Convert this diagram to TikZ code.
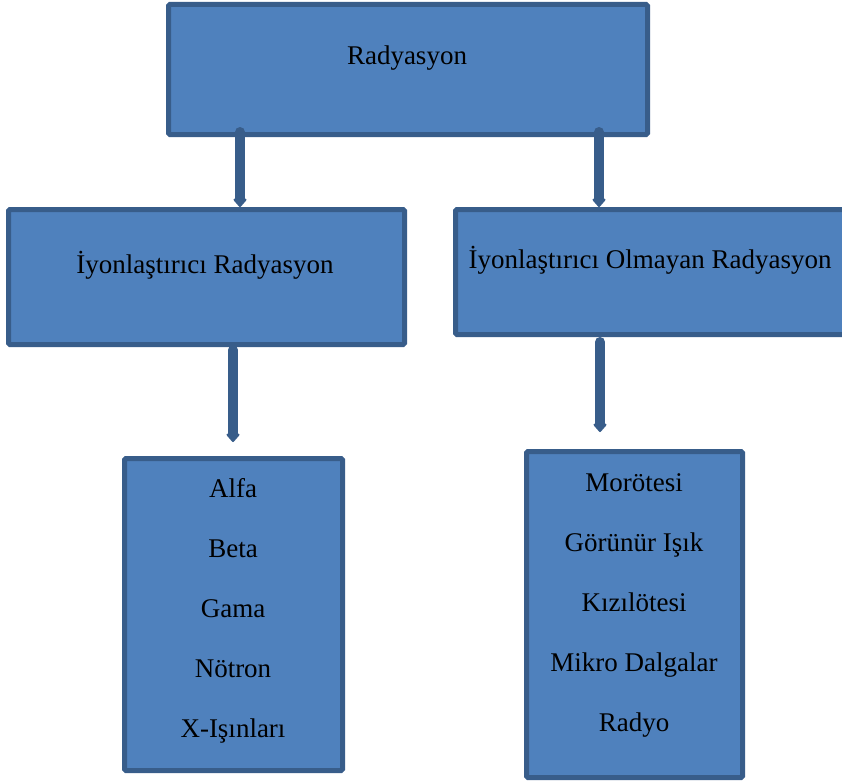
\documentclass[tikz,border=0pt]{standalone}
\definecolor{blue1}{RGB}{79, 129, 189}
\definecolor{blue2}{RGB}{56, 93, 138}
\usepackage{fontspec}
\setmainfont{Liberation Serif}
\usepackage{tikz}
\usetikzlibrary{arrows.meta, positioning, calc}

\tikzset{
  kutu/.style={draw=blue2, fill=blue1, line width=5pt, rounded corners=1.5pt, inner sep=0pt},
  yazi/.style={anchor=base, inner sep=0pt, font=\fontsize{27}{30}\selectfont},
  ok/.style={draw=blue2, line width=10pt, line cap=round, -{Triangle[width=15pt, length=9pt, round]}}
}

\begin{document}
\begin{tikzpicture}[x=1pt, y=-1pt]
  \clip (0,0) rectangle (842,781);
  \fill[white] (0,0) rectangle (842,781);

  % kutular
  \node[kutu, minimum width=479pt, minimum height=130pt] (rad) at (408,69.5) {};
  \node[kutu, minimum width=396pt, minimum height=135pt] (iyon) at (206.5,277) {};
  \node[kutu, minimum width=389pt, minimum height=125pt] (noniyon) at (650,272) {};
  \node[kutu, minimum width=218pt, minimum height=312pt] (iyonlist) at (233.5,614.5) {};
  \node[kutu, minimum width=216pt, minimum height=326pt] (noniyonlist) at (634.5,614.5) {};

  % yazilar
  \node[yazi] (radyazi) at (407,65) {Radyasyon};
  \node[yazi] (iyonyazi) at (205,273) {İyonlaştırıcı Radyasyon};
  \node[yazi] (noniyonyazi) at (650,268) {İyonlaştırıcı Olmayan Radyasyon};
  \foreach \t [count=\i] in {Alfa, Beta, Gama, Nötron, X-Işınları}
    \node[yazi] (iyon\i) at (233,437+60*\i) {\t};
  \foreach \t [count=\i] in {Morötesi, Görünür Işık, Kızılötesi, Mikro Dalgalar, Radyo}
    \node[yazi] (noniyon\i) at (634,431+60*\i) {\t};

  % oklar
  \coordinate (a1) at (240,132);
  \coordinate (a2) at (599,132);
  \coordinate (a3) at (233,350);
  \coordinate (b3) at (233,442);
  \coordinate (a4) at (600,342);
  \coordinate (b4) at (600,432);
  \draw[ok] (a1) -- (a1 |- iyon.north);
  \draw[ok] (a2) -- (a2 |- noniyon.north);
  \draw[ok] (a3) -- (b3);
  \draw[ok] (a4) -- (b4);
\end{tikzpicture}
\end{document}
